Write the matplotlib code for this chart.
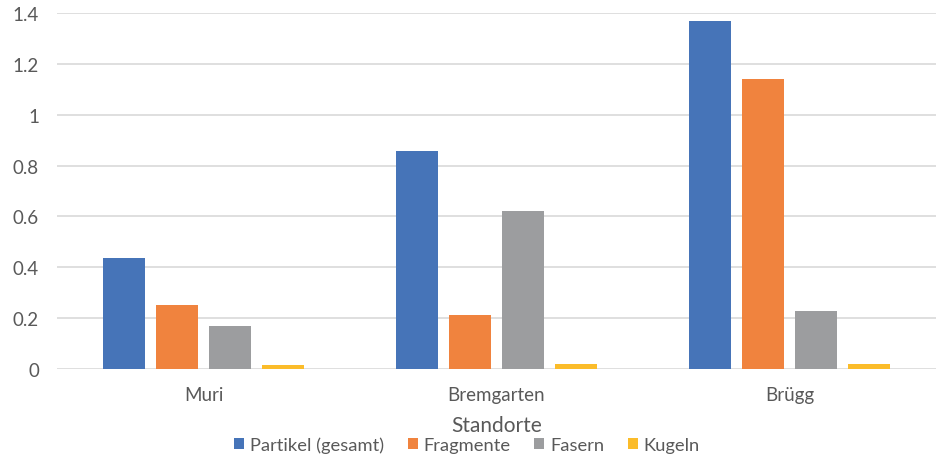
import matplotlib
matplotlib.use("Agg")
import matplotlib.pyplot as plt
import numpy as np

plt.rcParams['font.family'] = ['Lato', 'DejaVu Sans']

categories = ["Muri", "Bremgarten", "Brügg"]
series_names = ["Partikel (gesamt)", "Fragmente", "Fasern", "Kugeln"]
partikel = [0.436, 0.857, 1.37]
fragmente = [0.252, 0.214, 1.142]
fasern = [0.169, 0.621, 0.228]
kugeln = [0.016, 0.020, 0.019]
colors = ["#4674B8", "#F0833E", "#9C9D9F", "#FBBC2A"]
yticks = [0, 0.2, 0.4, 0.6, 0.8, 1, 1.2, 1.4]
ytick_labels = ["0", "0.2", "0.4", "0.6", "0.8", "1", "1.2", "1.4"]

W, H = 943, 456
fig = plt.figure(figsize=(W / 100, H / 100), dpi=100)
ax = fig.add_axes([57 / W, 1 - 370 / H, (936 - 57) / W, (370 - 14) / H])

x = np.arange(len(categories))
bw = 0.1433
step = 0.181
data = [partikel, fragmente, fasern, kugeln]
for i, (name, vals, c) in enumerate(zip(series_names, data, colors)):
    ax.bar(x + (i - 1.5) * step, vals, width=bw, color=c, label=name, zorder=3)

ax.set_xlim(-0.5, 2.5)
ax.set_ylim(0, 1.4)
ax.set_yticks(yticks)
ax.set_yticklabels(ytick_labels)
ax.set_xticks(x)
ax.set_xticklabels(categories)
ax.tick_params(axis='both', length=0, labelsize=13.5, labelcolor="#595959")
ax.tick_params(axis='y', pad=13)
ax.tick_params(axis='x', pad=12)
for s in ax.spines.values():
    s.set_visible(False)
ax.grid(axis='y', color="#D9D9D9", linewidth=1.2, zorder=0)
ax.set_axisbelow(True)

ax.set_xlabel("Standorte", fontsize=15, color="#595959", labelpad=9)

leg = fig.legend(loc='center', bbox_to_anchor=(467 / W, 1 - 446 / H), ncol=4,
                 frameon=False, fontsize=13.2, handlelength=0.55, handleheight=0.55,
                 handletextpad=0.3, columnspacing=1.3, labelcolor="#595959")

fig.savefig("out.png", dpi=100)
